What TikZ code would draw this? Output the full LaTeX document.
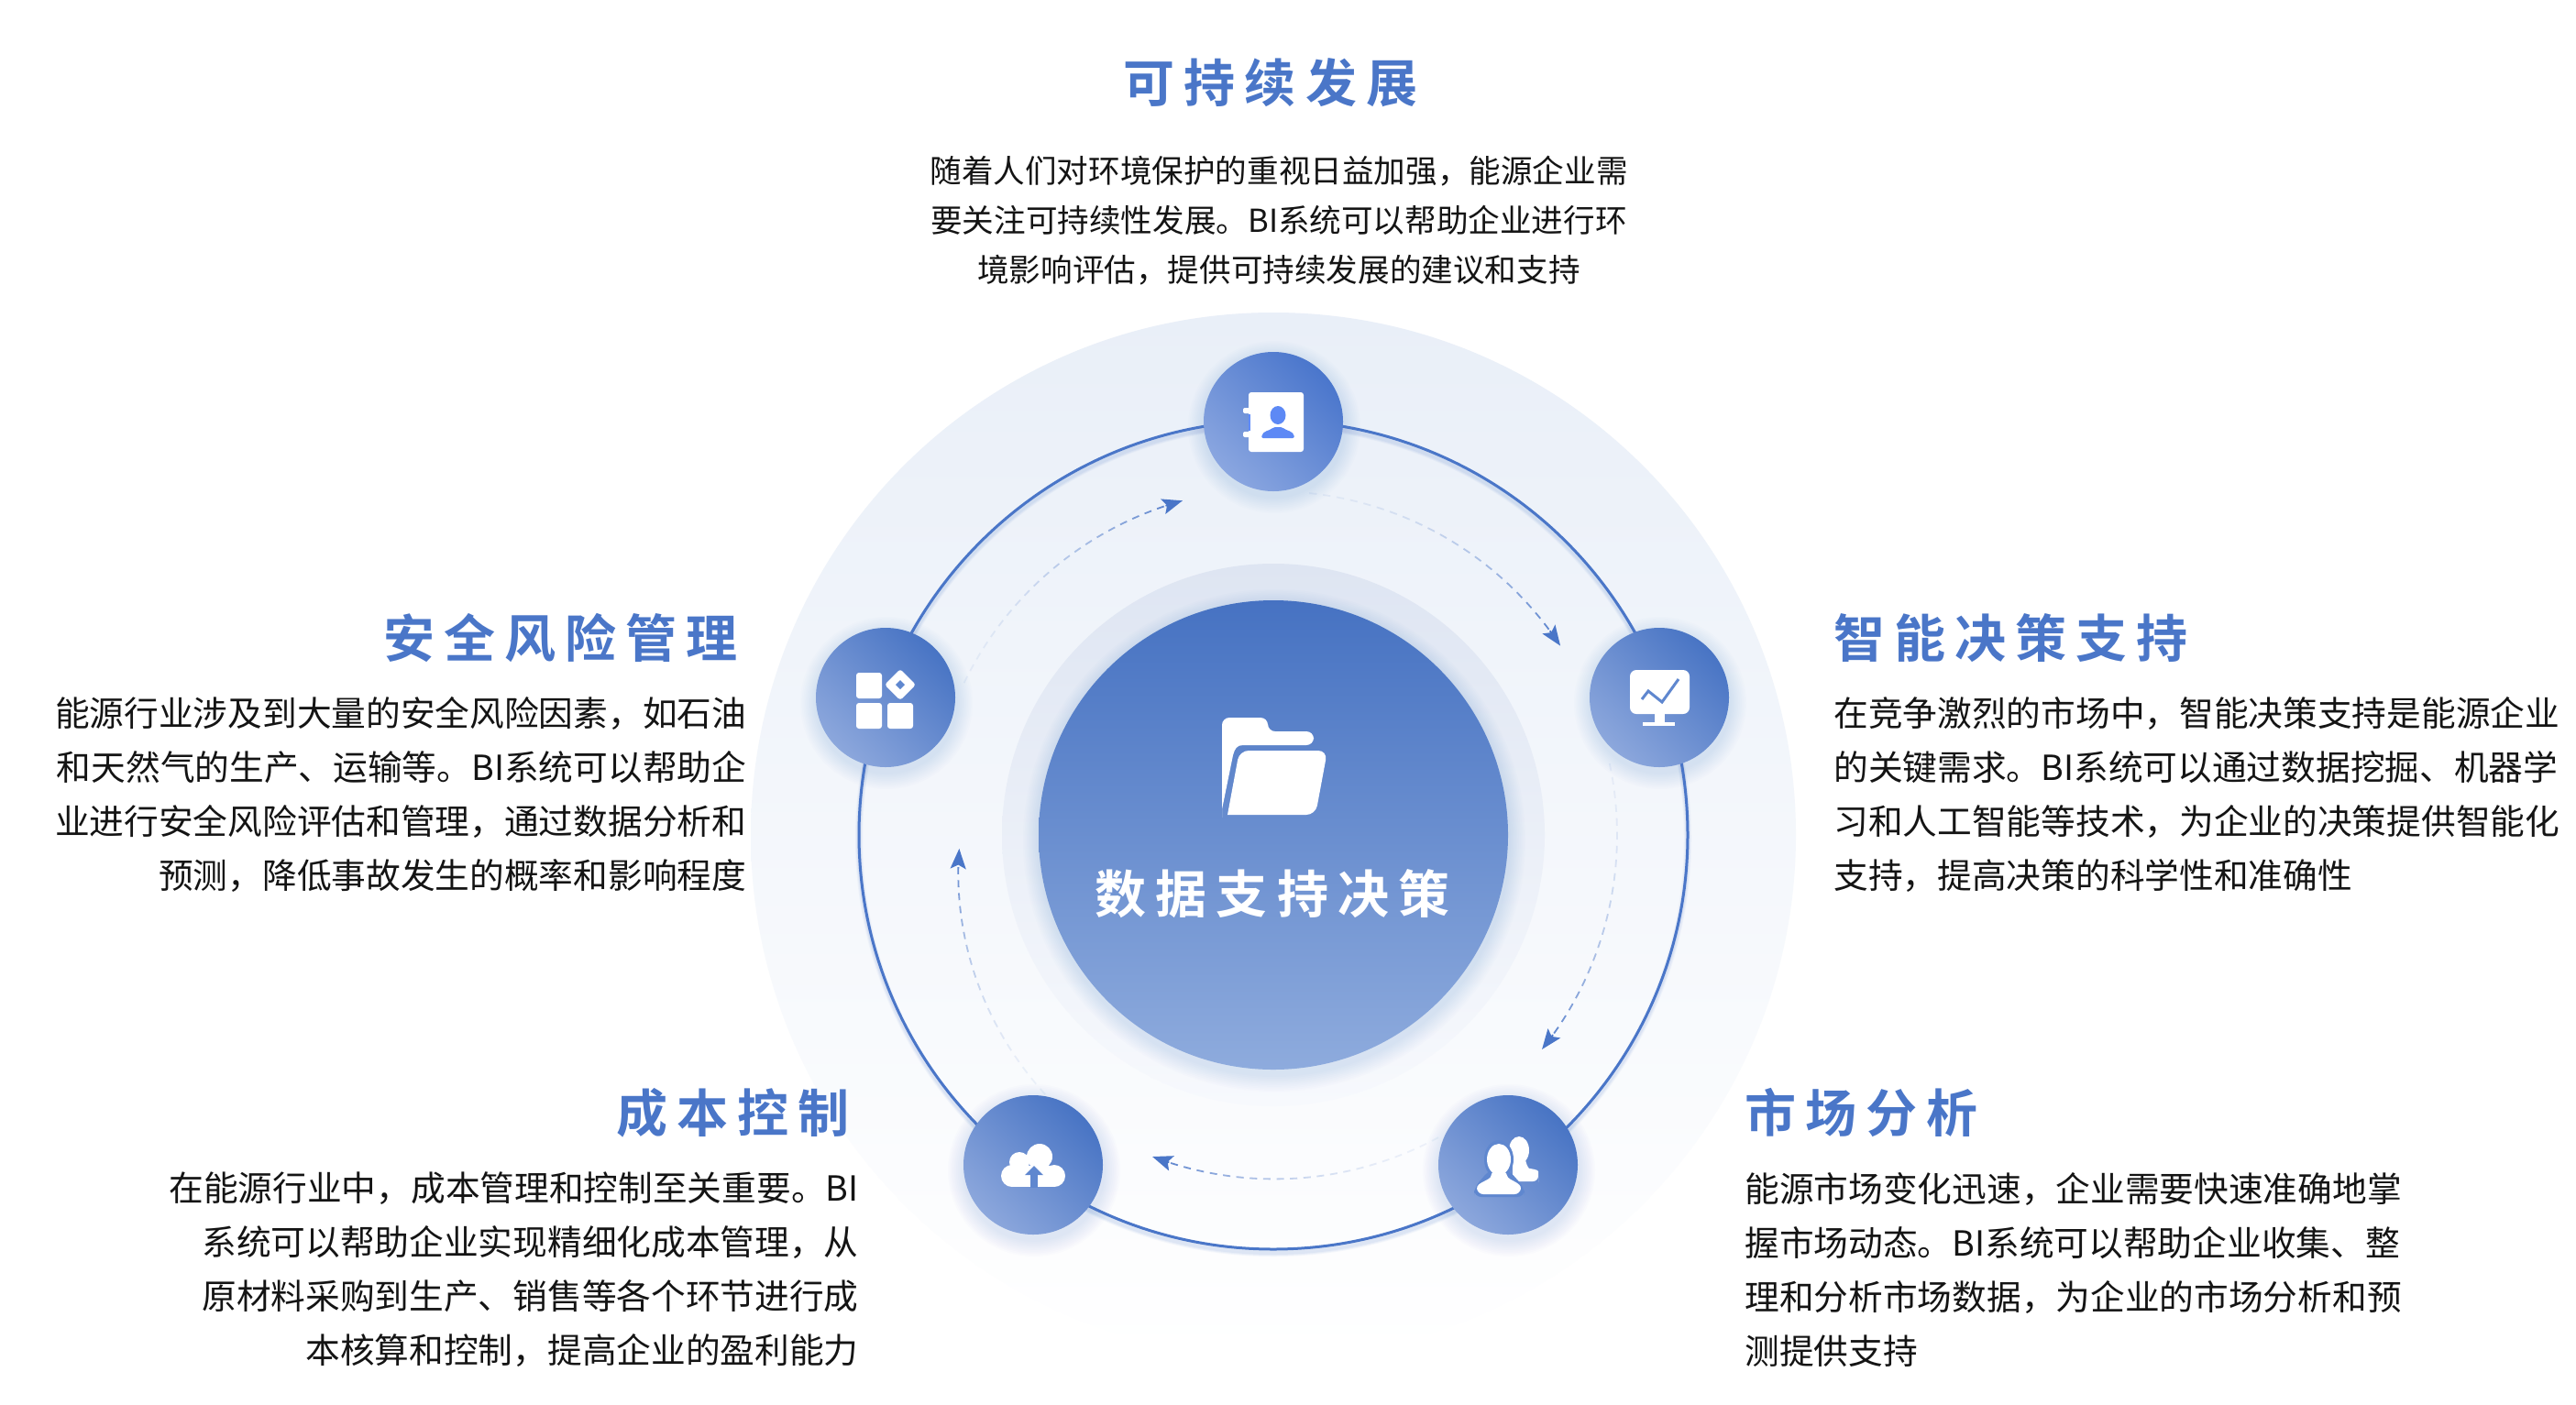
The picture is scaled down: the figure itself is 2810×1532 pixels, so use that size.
\documentclass[tikz,border=0pt]{standalone}
\usepackage{fontspec}
\setmainfont{Noto Sans CJK SC}
\newfontfamily\titlefont[LetterSpace=18,BoldFont={Noto Sans CJK SC Bold}]{Noto Sans CJK SC}
\usetikzlibrary{arrows.meta,calc}
\definecolor{blueT}{HTML}{4A76C8}
\definecolor{bodyT}{HTML}{141414}
\definecolor{icoB}{HTML}{5F87CF}
\definecolor{dashB}{HTML}{4A76C8}
\definecolor{EFA}{HTML}{E9EFF8}
\definecolor{EFB}{HTML}{DEE5F2}
\definecolor{EFC}{HTML}{F7F9FD}
\definecolor{cenT}{HTML}{4672C2}
\definecolor{cenB}{HTML}{8EABDD}
\definecolor{topL}{HTML}{8AA6E0}
\definecolor{topM}{HTML}{5F8BFA}
\definecolor{topD}{HTML}{4A76CC}
\definecolor{badL}{HTML}{8CA7DC}
\definecolor{badD}{HTML}{4874C4}
\tikzset{
  titletext/.style={font=\titlefont\fontsize{28pt}{30pt}\selectfont\bfseries,text=blueT,inner sep=0pt},
  bodytext/.style={font=\fontsize{18.85pt}{29.5pt}\selectfont,text=bodyT,inner sep=0pt},
  toptext/.style={font=\fontsize{17.3pt}{27pt}\selectfont,text=bodyT,inner sep=0pt,align=center},
  badge/.style={circle,inner sep=0pt,minimum size=76pt,left color=badL,right color=badD,shading angle=135},
}
% soft shadow below a disc: centre x, y, radius
\newcommand{\softshadow}[3]{%
  \foreach \k in {1,...,10}{%
    \fill[blueT,opacity=0.014] (#1+1,#2+6) circle[radius=#3+\k*1.8];
  }}
% dashed arc growing stronger toward its arrow head
% start angle, end angle, start radius, end radius, dashes
\newcommand{\dasharc}[5]{%
  \foreach \i in {1,...,#5}{%
    \pgfmathsetmacro{\ta}{(\i-1)/#5}%
    \pgfmathsetmacro{\tb}{(\i-0.45)/#5}%
    \pgfmathsetmacro{\aa}{#1+(#2-#1)*\ta}%
    \pgfmathsetmacro{\ab}{#1+(#2-#1)*\tb}%
    \pgfmathsetmacro{\ra}{#3+(#4-#3)*\ta}%
    \pgfmathsetmacro{\rb}{#3+(#4-#3)*\tb}%
    \pgfmathsetmacro{\op}{0.08+0.92*\ta*\ta}%
    \coordinate (da) at ($(ctr)+({\ra*cos(\aa)},{-\ra*sin(\aa)})$);
    \coordinate (db) at ($(ctr)+({\rb*cos(\ab)},{-\rb*sin(\ab)})$);
    \draw[dashB,line width=0.9pt,opacity=\op] (da)--(db);
  }%
  \pgfmathsetmacro{\aa}{#1+(#2-#1)*0.94}%
  \pgfmathsetmacro{\ra}{#3+(#4-#3)*0.94}%
  \coordinate (da) at ($(ctr)+({\ra*cos(\aa)},{-\ra*sin(\aa)})$);
  \coordinate (db) at ($(ctr)+({#4*cos(#2)},{-#4*sin(#2)})$);
  \draw[dashB,line width=0.9pt,-{Stealth[length=11pt,width=8.5pt,inset=2.2pt]}] (da)--(db);
}
\begin{document}
\begin{tikzpicture}[x=0.5pt,y=-0.5pt]
\useasboundingbox (0,0) rectangle (2810,1532);
\fill[white] (0,0) rectangle (2810,1532);
\coordinate (ctr) at (1389,911);
% outer halo
\node[circle,inner sep=0pt,minimum size=570pt,top color=EFA,bottom color=white] (halo) at (ctr) {};
% ring
\foreach \w/\o in {4/0.05,3/0.06,2/0.07}{
  \draw[blueT,line width=\w pt,opacity=\o] ($(ctr)+(0,4)$) circle[radius=452];
}
\draw[blueT,line width=1.5pt] (ctr) circle[radius=452];
% middle disc
\node[circle,inner sep=0pt,minimum size=296pt,top color=EFB,bottom color=EFC] (mid) at (ctr) {};
\softshadow{1389}{911}{256}
% centre disc
\node[circle,inner sep=0pt,minimum size=256pt,top color=cenT,bottom color=cenB] (core) at (ctr) {};
% folder
\fill[white,rounded corners=4pt] (1333,892) -- (1333,783) -- (1383,783) -- (1383,798) -- (1433,798) -- (1433,813) [sharp corners] -- (1356,813) .. controls (1349,813) and (1347,817) .. (1345,824) -- (1333,883) -- cycle;
\fill[white,rounded corners=5pt] (1339,889) -- (1352,819) -- (1448,819) -- (1435,889) [sharp corners] -- cycle;
\node[font=\titlefont\fontsize{28pt}{30pt}\selectfont\bfseries,text=white,inner sep=0pt] (coretext) at (1388,975) {数据支持决策};
% dashed arcs
\dasharc{84}{33.4}{375}{375}{22}
\dasharc{12}{-38.6}{375}{375}{22}
\dasharc{-61.4}{-110.6}{376}{375}{22}
\dasharc{228.7}{182.5}{377}{343}{20}
\dasharc{153.8}{105.2}{376}{378}{22}
% badge shadows
\softshadow{1389}{460}{76}
\softshadow{1810}{761}{76}
\softshadow{966}{761}{76}
\softshadow{1645}{1271}{76}
\softshadow{1127}{1271}{76}
% badges
\node[circle,inner sep=0pt,minimum size=76pt,left color=topL,middle color=topM,right color=topD,shading angle=135] (n1) at (1389,460) {};
\node[badge] (n2) at (1810,761) {};
\node[badge] (n3) at (1645,1271) {};
\node[badge] (n4) at (1127,1271) {};
\node[badge] (n5) at (966,761) {};
% icon: address book
\fill[white,rounded corners=1.5pt] (1362,428) rectangle (1422,493);
\fill[white,rounded corners=1pt] (1356,445) rectangle (1370,451);
\fill[white,rounded corners=1pt] (1356,471) rectangle (1370,477);
\fill[topM] (1362,452) rectangle (1364,470);
\fill[topM!90!blueT] (1394,453) ellipse[x radius=8.5,y radius=10];
\fill[topM!90!blueT,rounded corners=1pt] (1376,478) .. controls (1377,470) and (1385,470) .. (1389,466) -- (1399,466) .. controls (1403,470) and (1411,470) .. (1412,478) -- cycle;
% icon: monitor
\fill[white,rounded corners=3.5pt] (1778,731) rectangle (1843,779);
\fill[white] (1805,778) rectangle (1816,789);
\fill[white] (1792,788) rectangle (1827,792);
\draw[icoB,line width=1.5pt] (1791,763) -- (1798,754) -- (1813,766) -- (1831,741);
% icon: people
\fill[white] (1657,1255) ellipse[x radius=11,y radius=15];
\fill[white,rounded corners=3pt] (1650,1262) -- (1664,1262) -- (1664,1270) .. controls (1668,1275) and (1678,1276) .. (1678,1284) -- (1678,1289) -- (1650,1289) -- cycle;
\fill[icoB] (1635,1265) ellipse[x radius=16,y radius=21];
\fill[icoB,rounded corners=4pt] (1608,1306) -- (1608,1296) -- (1625,1276) -- (1645,1276) -- (1663,1296) -- (1663,1306) -- cycle;
\fill[white] (1635,1265) ellipse[x radius=13,y radius=17];
\fill[white,rounded corners=3pt] (1612,1303) .. controls (1610,1290) and (1626,1288) .. (1627,1277) -- (1643,1277) .. controls (1645,1288) and (1660,1290) .. (1658,1303) -- cycle;
% icon: cloud
\fill[white] (1134,1262) circle[radius=14];
\fill[white] (1112,1268) circle[radius=11];
\fill[white] (1104,1283) circle[radius=12];
\fill[white] (1150,1283) circle[radius=12];
\fill[white] (1104,1272) rectangle (1150,1295);
\fill[icoB] (1124,1282) rectangle (1132,1296);
\fill[icoB] (1128,1272) -- (1138,1282) -- (1118,1282) -- cycle;
% icon: blocks
\fill[white,rounded corners=1.5pt] (934,734) rectangle (962,762);
\fill[white,rounded corners=1.5pt] (934,767) rectangle (962,795);
\fill[white,rounded corners=1.5pt] (968,767) rectangle (996,795);
\fill[white,rounded corners=1.5pt] (982,730) -- (999,747) -- (982,764) -- (965,747) -- cycle;
\fill[icoB] (982,742) -- (987,747) -- (982,752) -- (977,747) -- cycle;
% texts
\node[titletext] (t1) at (1386,90) {可持续发展};
\node[toptext] (b1) at (1395,241) {随着人们对环境保护的重视日益加强，能源企业需\\要关注可持续性发展。BI系统可以帮助企业进行环\\境影响评估，提供可持续发展的建议和支持};
\node[titletext,anchor=west] (t2) at (2000,696) {智能决策支持};
\node[bodytext,anchor=west,align=left] (b2) at (2000,867) {在竞争激烈的市场中，智能决策支持是能源企业\\的关键需求。BI系统可以通过数据挖掘、机器学\\习和人工智能等技术，为企业的决策提供智能化\\支持，提高决策的科学性和准确性};
\node[titletext,anchor=west] (t3) at (1903,1214) {市场分析};
\node[bodytext,anchor=west,align=left] (b3) at (1903,1385.5) {能源市场变化迅速，企业需要快速准确地掌\\握市场动态。BI系统可以帮助企业收集、整\\理和分析市场数据，为企业的市场分析和预\\测提供支持};
\node[titletext,anchor=east] (t4) at (927,1214) {成本控制};
\node[bodytext,anchor=east,align=right] (b4) at (937,1385.5) {在能源行业中，成本管理和控制至关重要。BI\\系统可以帮助企业实现精细化成本管理，从\\原材料采购到生产、销售等各个环节进行成\\本核算和控制，提高企业的盈利能力};
\node[titletext,anchor=east] (t5) at (805,696) {安全风险管理};
\node[bodytext,anchor=east,align=right] (b5) at (814.5,867) {能源行业涉及到大量的安全风险因素，如石油\\和天然气的生产、运输等。BI系统可以帮助企\\业进行安全风险评估和管理，通过数据分析和\\预测，降低事故发生的概率和影响程度};
\end{tikzpicture}
\end{document}
